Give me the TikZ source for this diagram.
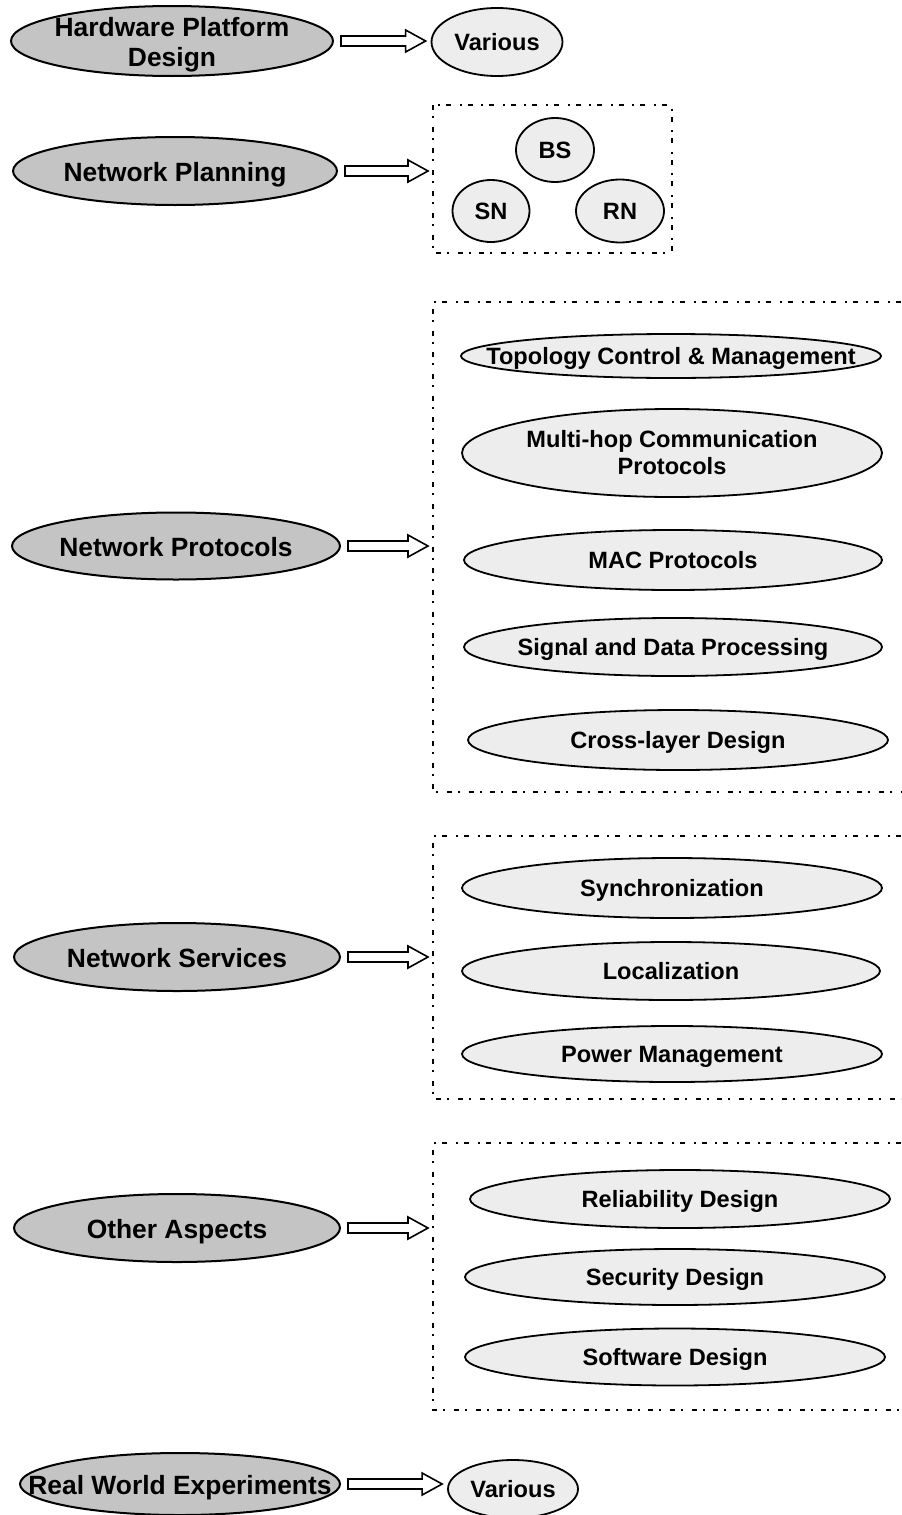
\documentclass[tikz,border=0pt]{standalone}
\usepackage{fontspec}
\setmainfont{Liberation Sans}
\usetikzlibrary{shapes.geometric,calc}
\newcommand{\ctr}[1]{\makebox[0pt]{\raisebox{-.38em}[0pt][0pt]{\begin{tabular}{@{}c@{}}#1\end{tabular}}}}
\begin{document}
\begin{tikzpicture}[x=.5pt, y=-.5pt,
  wh/.style 2 args={minimum width=#1*.5pt, minimum height=#2*.5pt},
  topic/.style={ellipse, draw, line width=1pt, fill=black!23, inner sep=0pt,
    font=\fontsize{13.2}{15}\selectfont\bfseries},
  item/.style={ellipse, draw, line width=.9pt, fill=black!7, inner sep=0pt,
    font=\fontsize{11.8}{13.5}\selectfont\bfseries},
  frame/.style={line width=1pt, dash pattern=on 2.5pt off 3pt on 1pt off 4.3pt},
  hollow/.style={line width=.8pt, to path={let \p1=(\tikztostart), \p2=(\tikztotarget) in
    (\x1+3.5pt,\y1+2.5pt) -- (\x2-12.5pt,\y1+2.5pt) -- (\x2-12.5pt,\y1+5.5pt) -- (\x2-2.5pt,\y1)
    -- (\x2-12.5pt,\y1-5.5pt) -- (\x2-12.5pt,\y1-2.5pt) -- (\x1+3.5pt,\y1-2.5pt) -- cycle}}]
\useasboundingbox (0,0) rectangle (901,1515);

% hardware
\node[topic, wh={322}{70}] (hw) at (172,41) {\ctr{Hardware Platform\\Design}};
\node[item, wh={131}{68}] (hwv) at (497,42) {\ctr{Various}};
\draw[hollow] (hw.east) to (hwv.west);

% planning
\node[topic, wh={324}{68}] (plan) at (175,171) {\ctr{Network Planning}};
\draw[frame] (433,105) rectangle (672,253);
\coordinate (planbox) at (433,171);
\node[item, wh={78}{64}] (bs) at (555,150) {\ctr{BS}};
\node[item, wh={77}{62}] (sn) at (491,211) {\ctr{SN}};
\node[item, wh={88}{63}] (rn) at (620,211) {\ctr{RN}};
\draw[hollow] (plan.east) to (planbox);

% protocols
\node[topic, wh={328}{67}] (prot) at (176,546) {\ctr{Network Protocols}};
\draw[frame] (901,302) -| (433,792) -- (901,792);
\coordinate (protbox) at (433,546);
\node[item, wh={420}{44}] (topo) at (671,356) {\ctr{Topology Control \& Management}};
\node[item, wh={420}{88}] (multi) at (672,453) {\ctr{Multi-hop Communication\\Protocols}};
\node[item, wh={418}{60}] (mac) at (673,560) {\ctr{MAC Protocols}};
\node[item, wh={418}{58}] (sig) at (673,647) {\ctr{Signal and Data Processing}};
\node[item, wh={420}{60}] (cross) at (678,740) {\ctr{Cross-layer Design}};
\draw[hollow] (prot.east) to (protbox);

% services
\node[topic, wh={326}{68}] (serv) at (177,957) {\ctr{Network Services}};
\draw[frame] (901,836) -| (433,1099) -- (901,1099);
\coordinate (servbox) at (433,957);
\node[item, wh={420}{60}] (sync) at (672,888) {\ctr{Synchronization}};
\node[item, wh={418}{58}] (loc) at (671,971) {\ctr{Localization}};
\node[item, wh={420}{56}] (pow) at (672,1054) {\ctr{Power Management}};
\draw[hollow] (serv.east) to (servbox);

% other aspects
\node[topic, wh={326}{68}] (other) at (177,1228) {\ctr{Other Aspects}};
\draw[frame] (901,1143) -| (433,1410) -- (901,1410);
\coordinate (otherbox) at (433,1228);
\node[item, wh={420}{58}] (rel) at (680,1199) {\ctr{Reliability Design}};
\node[item, wh={420}{56}] (sec) at (675,1277) {\ctr{Security Design}};
\node[item, wh={420}{57}] (soft) at (675,1357) {\ctr{Software Design}};
\draw[hollow] (other.east) to (otherbox);

% experiments
\node[topic, wh={320}{62}] (real) at (180,1484) {\ctr{Real World Experiments}};
\node[item, wh={130}{58}] (realv) at (513,1489) {\ctr{Various}};
\draw[hollow] (real.east) to (realv.west);

\end{tikzpicture}
\end{document}
